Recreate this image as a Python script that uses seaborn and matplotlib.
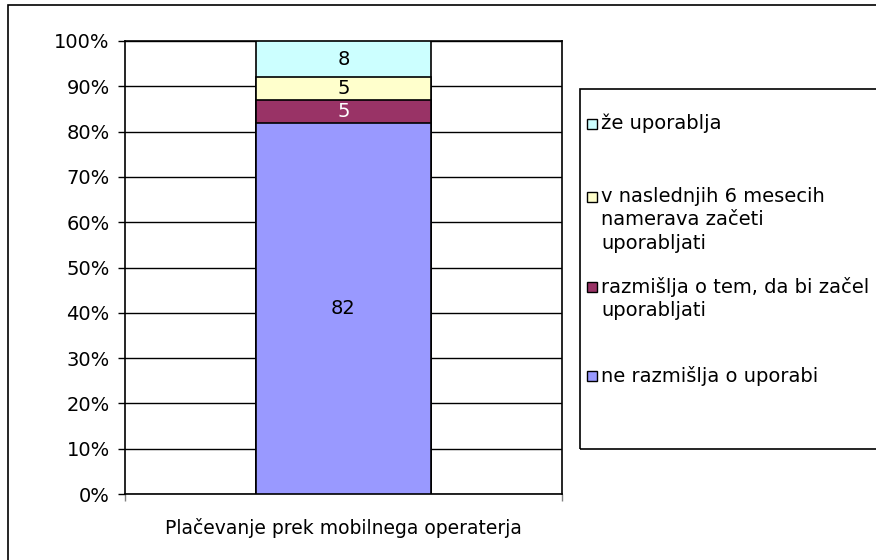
import numpy as np
import pandas as pd
import matplotlib
matplotlib.use('Agg')
import matplotlib.pyplot as plt
from matplotlib.patches import Rectangle
import seaborn as sns

# podatki
CATEGORY = ['Plačevanje prek mobilnega operaterja']
SERIES = ['ne razmišlja o uporabi',
          'razmišlja o tem, da bi začel uporabljati',
          'v naslednjih 6 mesecih namerava začeti uporabljati',
          'že uporablja']
VALUES = [82, 5, 5, 8]
LEGEND_LABELS = ['ne razmišlja o uporabi',
                 'razmišlja o tem, da bi začel\nuporabljati',
                 'v naslednjih 6 mesecih\nnamerava začeti\nuporabljati',
                 'že uporablja']
COLORS = ['#9999FF', '#993366', '#FFFFCC', '#CCFFFF']
TEXT_COLORS = ['black', 'white', 'black', 'black']

sns.set_style('white')
plt.rcParams['font.family'] = ['DejaVu Sans']
plt.rcParams['text.color'] = 'black'
plt.rcParams['xtick.color'] = 'black'
plt.rcParams['ytick.color'] = 'black'
FS = 14

pct = np.array(VALUES) / np.sum(VALUES) * 100
cum = np.cumsum(pct)
df = pd.DataFrame({'kat': CATEGORY * len(SERIES), 'serija': SERIES,
                   'vrednost': VALUES, 'pct': pct, 'cum': cum})

W, H = 876, 560
fig = plt.figure(figsize=(W / 100, H / 100), dpi=100, facecolor='white')
fig.patches.append(Rectangle((8 / W, -0.01), 1.0, 1 - 5 / H + 0.01, transform=fig.transFigure,
                             fill=False, edgecolor='black', linewidth=1.2))
ax = fig.add_axes([125 / W, 1 - 494 / H, 437 / W, 453 / H])

# stacked: kumulativni stolpci od najvisjega navzdol
for i in reversed(range(len(SERIES))):
    sub = df.iloc[[i]]
    sns.barplot(data=sub, x='kat', y='cum', color=COLORS[i], width=0.4,
                edgecolor='black', linewidth=1.2, saturation=1, ax=ax, zorder=3)

for i in range(len(SERIES)):
    ycen = cum[i] - pct[i] / 2
    ax.text(0, ycen, f'{VALUES[i]}', ha='center', va='center',
            fontsize=FS, color=TEXT_COLORS[i], zorder=5)

ax.set_xlim(-0.5, 0.5)
ax.set_ylim(0, 100)
ax.set_yticks(np.arange(0, 101, 10))
ax.set_yticklabels([f'{t}%' for t in range(0, 101, 10)], fontsize=FS)
ax.set_xticks([0])
ax.set_xticklabels(CATEGORY, fontsize=13.5)
ax.set_xticks([-0.5, 0.5], minor=True)
ax.tick_params(axis='y', which='major', left=True, length=5, width=1, direction='out', pad=6)
ax.tick_params(axis='x', which='major', bottom=False, pad=14)
ax.tick_params(axis='x', which='minor', bottom=True, length=5, width=1, color='#808080')
ax.set_xlabel('')
ax.set_ylabel('')
ax.yaxis.grid(True, color='black', linewidth=1)
ax.set_axisbelow(True)
for s in ax.spines.values():
    s.set_visible(True)
    s.set_color('black')
    s.set_linewidth(1.2)

# legenda (rocno, kvadratek poravnan s prvo vrstico)
fig.patches.append(Rectangle((580 / W, 1 - 449 / H), 1.0, (449 - 89) / H,
                             transform=fig.transFigure, fill=False,
                             edgecolor='black', linewidth=1.2))
leg_y = [376, 287, 197, 124]
for i in range(len(SERIES)):
    y = leg_y[i]
    fig.patches.append(Rectangle((587 / W, 1 - (y + 5) / H), 10 / W, 10 / H,
                                 transform=fig.transFigure, facecolor=COLORS[i],
                                 edgecolor='black', linewidth=1))
    fig.text(601 / W, 1 - (y - 10) / H, LEGEND_LABELS[i], ha='left', va='top',
             fontsize=FS, linespacing=1.3)

plt.savefig('out.png', dpi=100, facecolor='white')
